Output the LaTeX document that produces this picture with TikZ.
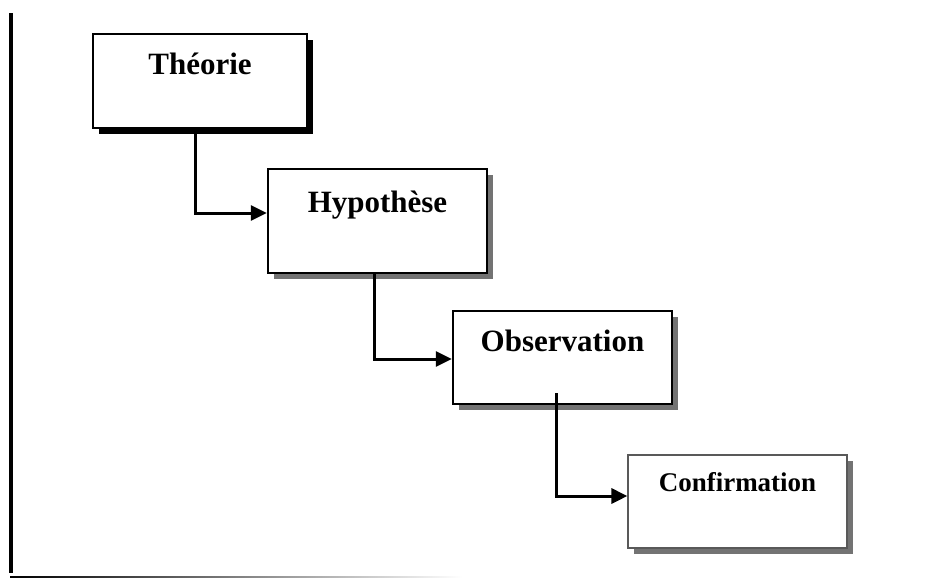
\documentclass[tikz,border=0pt]{standalone}
\usepackage{fontspec}
\setmainfont{Liberation Serif}
\usetikzlibrary{arrows.meta,shadows}

\tikzset{
  etape/.style={draw=black, line width=2.4pt, fill=white, inner sep=0pt},
  ombrenoire/.style={drop shadow={shadow xshift=6pt, shadow yshift=-6pt, fill=black, opacity=1}},
  ombregrise/.style={drop shadow={shadow xshift=6pt, shadow yshift=-6pt, fill=black!55, opacity=1}},
  titre/.style={font=\bfseries\fontsize{31}{33}\selectfont, inner sep=0pt},
  fleche/.style={line width=3pt, -{Triangle[length=16pt, width=15pt]}}
}

\begin{document}
\begin{tikzpicture}[x=1pt, y=-1pt]
    \useasboundingbox (0,0) rectangle (942,578);

    % Cadre gauche et trait du bas
    \fill[black] (9,13) rectangle (13,573);
    \shade[left color=black, right color=white] (10,576) rectangle (462,578);

    % Théorie
    \node[etape, ombrenoire, minimum width=214pt, minimum height=94pt] (theorie) at (200,81) {};
    \node[titre] (ttheorie) at (200,64) {Théorie};

    % Hypothèse
    \node[etape, ombregrise, minimum width=219pt, minimum height=104pt] (hypo) at (377.5,221) {};
    \node[titre] (thypo) at (377.5,205) {Hypothèse};

    % Observation
    \node[etape, ombregrise, minimum width=219pt, minimum height=93pt] (obs) at (562.5,357.5) {};
    \node[titre] (tobs) at (562.5,341) {Observation};

    % Confirmation
    \node[etape, ombregrise, draw=gray!70!black, line width=1.2pt, minimum width=219pt, minimum height=93pt] (conf) at (737.5,501.5) {};
    \node[titre, font=\bfseries\fontsize{27}{29}\selectfont] (tconf) at (737.5,482) {Confirmation};

    % Liaisons
    \draw[fleche] ([xshift=-5pt]theorie.south) |- ([yshift=8pt]hypo.west);
    \draw[fleche] ([xshift=-3.5pt]hypo.south) |- ([yshift=-1.5pt]obs.west);
    \draw[fleche] ([xshift=-6.5pt, yshift=12pt]obs.south) |- ([yshift=5.5pt]conf.west);

\end{tikzpicture}
\end{document}
